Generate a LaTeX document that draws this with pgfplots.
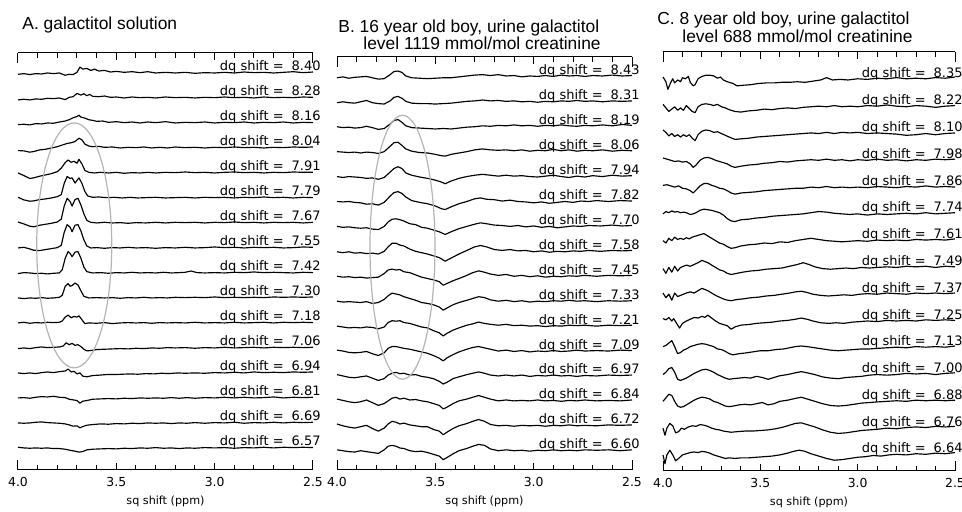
\documentclass[border=0pt]{standalone}
\usepackage{fontspec}
\setmainfont{Liberation Sans}
\newfontfamily\lab{DejaVu Sans}
\usepackage{pgfplots}
\pgfplotsset{compat=1.18}

\definecolor{ellgray}{HTML}{B4B4B4}
\newcommand\ttl{\fontsize{8.7}{10}\selectfont}
% one trace: #1 = row (stacked downwards by \spc), #2 = coordinates
\newcommand\tr[2]{\addplot[trace, y filter/.expression={y-#1*\spc}] coordinates {#2};}
\newcommand\dq[2]{\node[anchor=base east, inner sep=0pt, xshift=4pt, yshift=1pt,
  font=\lab\fontsize{6.5}{7.5}\selectfont] at (axis cs:2.5,{-#1*\spc}) {dq shift =\hspace{4pt}#2};}
% ruler ticks on the top and bottom lines
\newcommand\rtick[2]{%
  \draw[black, line width=0.5pt] ({axis cs:#1,0}|-{rel axis cs:0,0}) -- ++(0pt,#2);
  \draw[black, line width=0.5pt] ({axis cs:#1,0}|-{rel axis cs:0,1}) -- ++(0pt,-#2);}
\newcommand\ruler{%
  \pgfplotsinvokeforeach{2.6,2.7,2.8,2.9,3.1,3.2,3.3,3.4,3.6,3.7,3.8,3.9}{\rtick{##1}{2.3pt}}
  \rtick{3.0}{3.6pt}\rtick{3.5}{3.6pt}\rtick{2.5}{5pt}\rtick{4.0}{5pt}}

\pgfplotsset{
  panel/.style={
    scale only axis, width=147.5pt,
    xmin=2.5, xmax=4.0, x dir=reverse,
    axis x line=box, axis y line=none,
    ytick=\empty,
    xtick={2.5,3,3.5,4}, xticklabels={2.5,3.0,3.5,4.0},
    tick align=inside, xtick pos=both, xticklabel pos=lower,
    major tick length=3.6pt,
    every tick/.style={black, line width=0.5pt},
    axis line style={black, line width=0.5pt},
    xticklabel style={font=\lab\fontsize{6.2}{7}\selectfont},
    xlabel={sq shift (ppm)},
    xlabel style={font=\lab\fontsize{5.6}{6.5}\selectfont, yshift=2pt},
    clip=false,
  },
  trace/.style={black, line width=0.58pt, mark=none, line join=round},
}

\begin{document}
\begin{tikzpicture}
\path[use as bounding box] (0,0) rectangle (481pt,256pt);

% ---------------- A ----------------
\def\spc{0.77}
\begin{axis}[panel, at={(9pt,21pt)}, anchor=south west, height=208.5pt, ymin=-12.23, ymax=0.616]
\tr{0}{(4.00,-0.04)(3.97,-0.02)(3.94,-0.05)(3.91,-0.02)(3.88,-0.03)(3.85,0.00)(3.82,-0.02)(3.79,0.00)(3.76,-0.07)(3.74,-0.04)(3.72,-0.05)(3.70,0.02)(3.685,0.18)(3.67,0.12)(3.65,0.14)(3.63,0.08)(3.61,0.12)(3.59,0.06)(3.56,0.08)(3.53,0.03)(3.50,0.05)(3.46,0.02)(3.42,0.04)(3.38,0.01)(3.34,0.04)(3.30,0.00)(3.25,0.02)(3.20,0.00)(3.15,0.02)(3.10,-0.01)(3.05,0.01)(3.00,0.00)(2.95,0.02)(2.90,0.00)(2.85,0.03)(2.80,0.01)(2.75,0.02)(2.70,0.00)(2.65,0.02)(2.60,0.04)(2.55,0.01)(2.50,0.03)}
\tr{1}{(4.00,-0.06)(3.97,-0.04)(3.94,-0.06)(3.91,-0.03)(3.88,-0.04)(3.85,-0.01)(3.82,-0.02)(3.79,0.00)(3.76,-0.05)(3.74,0.02)(3.72,0.04)(3.70,0.14)(3.68,0.09)(3.665,0.13)(3.65,0.07)(3.635,0.11)(3.62,0.05)(3.59,0.04)(3.56,0.06)(3.53,0.02)(3.50,0.03)(3.46,0.00)(3.42,0.03)(3.38,0.01)(3.34,0.02)(3.30,0.00)(3.25,0.03)(3.20,0.01)(3.15,0.02)(3.10,0.00)(3.05,0.02)(3.00,0.01)(2.95,0.03)(2.90,0.01)(2.85,0.02)(2.80,0.00)(2.75,0.03)(2.70,0.01)(2.65,0.02)(2.60,0.01)(2.55,0.03)(2.50,0.02)}
\tr{2}{(4.00,-0.05)(3.97,-0.04)(3.94,-0.06)(3.91,-0.02)(3.88,-0.03)(3.85,0.00)(3.82,-0.01)(3.79,0.03)(3.76,0.06)(3.74,0.10)(3.72,0.16)(3.70,0.20)(3.69,0.24)(3.68,0.18)(3.66,0.15)(3.64,0.10)(3.62,0.08)(3.60,0.05)(3.57,0.06)(3.54,0.02)(3.50,0.04)(3.46,0.01)(3.42,0.03)(3.38,0.00)(3.34,0.03)(3.30,0.01)(3.25,0.04)(3.20,0.00)(3.15,0.02)(3.10,0.01)(3.05,0.03)(3.00,0.00)(2.95,0.02)(2.90,0.01)(2.85,0.03)(2.80,0.00)(2.75,0.02)(2.70,0.01)(2.65,0.03)(2.60,0.00)(2.55,0.02)(2.50,0.01)}
\tr{3}{(4.00,-0.08)(3.97,-0.09)(3.94,-0.13)(3.92,-0.11)(3.89,-0.06)(3.86,-0.04)(3.83,0.00)(3.80,0.04)(3.77,0.10)(3.75,0.14)(3.73,0.16)(3.71,0.20)(3.69,0.30)(3.675,0.25)(3.66,0.12)(3.64,0.06)(3.62,0.04)(3.59,0.05)(3.56,0.02)(3.52,0.03)(3.48,0.00)(3.44,0.02)(3.40,0.01)(3.36,0.03)(3.32,0.00)(3.28,0.02)(3.24,0.00)(3.20,0.03)(3.15,0.01)(3.10,0.02)(3.05,0.00)(3.00,0.02)(2.95,0.01)(2.90,0.03)(2.85,0.01)(2.80,0.02)(2.75,0.00)(2.70,0.02)(2.65,0.01)(2.60,0.03)(2.55,0.02)(2.50,0.03)}
\tr{4}{(4.00,0.00)(3.97,-0.08)(3.94,-0.17)(3.92,-0.15)(3.89,-0.10)(3.86,-0.06)(3.83,-0.02)(3.80,0.04)(3.78,0.15)(3.76,0.32)(3.745,0.40)(3.73,0.33)(3.715,0.36)(3.70,0.30)(3.69,0.42)(3.675,0.28)(3.66,0.08)(3.64,0.02)(3.61,0.00)(3.58,0.02)(3.54,0.00)(3.50,0.02)(3.46,-0.01)(3.42,0.01)(3.38,0.00)(3.34,0.02)(3.30,0.00)(3.25,0.02)(3.20,0.01)(3.15,0.03)(3.10,0.01)(3.05,0.02)(3.00,0.00)(2.95,0.02)(2.90,0.03)(2.85,0.01)(2.80,0.02)(2.75,0.00)(2.70,0.02)(2.65,0.01)(2.60,0.03)(2.55,0.02)(2.50,0.02)}
\tr{5}{(4.00,0.02)(3.97,-0.06)(3.94,-0.10)(3.92,-0.09)(3.89,-0.05)(3.86,-0.03)(3.83,0.00)(3.80,0.04)(3.78,0.10)(3.765,0.45)(3.75,0.66)(3.735,0.60)(3.725,0.62)(3.71,0.46)(3.69,0.62)(3.675,0.45)(3.66,0.20)(3.645,0.06)(3.62,0.02)(3.59,0.03)(3.55,0.01)(3.51,0.02)(3.47,0.00)(3.43,0.02)(3.39,0.00)(3.35,0.01)(3.30,0.02)(3.25,0.00)(3.20,0.01)(3.15,0.02)(3.10,0.00)(3.05,0.02)(3.00,0.01)(2.95,0.02)(2.90,0.00)(2.85,0.02)(2.80,0.01)(2.75,0.03)(2.70,0.01)(2.65,0.02)(2.60,0.00)(2.55,0.02)(2.50,0.01)}
\tr{6}{(4.00,0.03)(3.97,-0.03)(3.94,-0.10)(3.92,-0.12)(3.89,-0.07)(3.86,-0.04)(3.83,-0.01)(3.80,0.03)(3.78,0.12)(3.765,0.52)(3.75,0.76)(3.735,0.66)(3.725,0.52)(3.71,0.72)(3.695,0.76)(3.68,0.55)(3.665,0.28)(3.65,0.08)(3.63,0.02)(3.60,0.00)(3.56,0.02)(3.52,0.00)(3.48,0.01)(3.44,-0.01)(3.40,0.01)(3.35,0.00)(3.30,0.02)(3.25,0.00)(3.20,0.02)(3.15,0.01)(3.10,0.02)(3.05,0.00)(3.00,0.02)(2.95,0.01)(2.90,0.03)(2.85,0.01)(2.80,0.02)(2.75,0.00)(2.70,0.02)(2.65,0.01)(2.60,0.02)(2.55,0.00)(2.50,0.02)}
\tr{7}{(4.00,0.00)(3.97,0.02)(3.94,-0.03)(3.92,-0.07)(3.89,-0.08)(3.86,-0.05)(3.83,-0.02)(3.80,0.01)(3.78,0.08)(3.765,0.48)(3.75,0.72)(3.735,0.64)(3.725,0.50)(3.71,0.70)(3.695,0.72)(3.68,0.52)(3.665,0.25)(3.65,0.06)(3.63,0.00)(3.60,0.01)(3.56,-0.01)(3.52,0.01)(3.48,0.00)(3.44,0.02)(3.40,0.00)(3.35,0.01)(3.30,-0.01)(3.25,0.01)(3.20,0.00)(3.15,0.02)(3.10,0.00)(3.05,0.01)(3.00,0.03)(2.95,0.01)(2.90,0.02)(2.85,0.00)(2.80,0.02)(2.75,0.01)(2.70,0.02)(2.65,0.00)(2.60,0.01)(2.55,0.03)(2.50,0.02)}
\tr{8}{(4.00,-0.02)(3.97,0.01)(3.94,0.00)(3.91,-0.02)(3.88,-0.01)(3.85,-0.03)(3.82,-0.01)(3.79,0.00)(3.775,0.10)(3.76,0.45)(3.745,0.66)(3.735,0.60)(3.725,0.50)(3.71,0.64)(3.695,0.66)(3.68,0.45)(3.665,0.18)(3.65,0.04)(3.62,0.00)(3.58,0.01)(3.54,-0.01)(3.50,0.01)(3.46,0.00)(3.42,0.02)(3.38,0.00)(3.34,0.01)(3.30,0.00)(3.26,0.02)(3.22,0.00)(3.18,0.01)(3.15,0.02)(3.12,0.06)(3.09,0.01)(3.05,0.00)(3.00,0.01)(2.95,0.00)(2.90,0.02)(2.85,0.01)(2.80,0.03)(2.75,0.01)(2.70,0.02)(2.65,0.01)(2.60,0.00)(2.55,0.02)(2.50,0.01)}
\tr{9}{(4.00,0.00)(3.97,-0.02)(3.94,0.00)(3.91,-0.01)(3.88,0.01)(3.85,-0.01)(3.82,0.00)(3.79,0.02)(3.775,0.08)(3.76,0.36)(3.745,0.44)(3.735,0.36)(3.725,0.38)(3.71,0.46)(3.695,0.40)(3.68,0.22)(3.665,0.05)(3.64,0.00)(3.60,0.01)(3.56,0.00)(3.52,0.01)(3.48,-0.01)(3.44,0.01)(3.40,0.00)(3.36,0.02)(3.32,0.00)(3.28,0.01)(3.24,0.00)(3.20,0.02)(3.15,0.01)(3.10,0.02)(3.05,0.01)(3.00,0.03)(2.95,0.01)(2.90,0.02)(2.85,0.01)(2.80,0.02)(2.75,0.01)(2.70,0.03)(2.65,0.02)(2.60,0.03)(2.55,0.02)(2.50,0.03)}
\tr{10}{(4.00,0.00)(3.97,0.02)(3.94,-0.01)(3.91,0.01)(3.88,0.00)(3.85,0.02)(3.82,0.01)(3.79,0.02)(3.775,0.06)(3.76,0.18)(3.745,0.24)(3.73,0.16)(3.715,0.20)(3.70,0.18)(3.69,0.22)(3.675,0.10)(3.66,-0.02)(3.64,0.00)(3.60,-0.01)(3.56,0.01)(3.52,-0.02)(3.48,0.00)(3.44,0.01)(3.40,0.00)(3.36,0.01)(3.32,-0.01)(3.28,0.01)(3.24,0.00)(3.20,0.01)(3.15,0.00)(3.10,0.02)(3.05,0.00)(3.00,0.01)(2.95,0.00)(2.90,0.02)(2.85,0.00)(2.80,0.01)(2.75,0.02)(2.70,0.00)(2.65,0.02)(2.60,0.01)(2.55,0.02)(2.50,0.01)}
\tr{11}{(4.00,-0.02)(3.97,0.00)(3.94,-0.02)(3.91,0.01)(3.88,0.03)(3.85,0.01)(3.82,0.02)(3.79,0.03)(3.77,0.06)(3.755,0.16)(3.74,0.10)(3.725,0.14)(3.71,0.08)(3.695,0.10)(3.68,0.04)(3.665,-0.04)(3.65,-0.09)(3.63,-0.08)(3.60,-0.05)(3.56,-0.04)(3.52,-0.03)(3.48,-0.02)(3.44,-0.03)(3.40,-0.01)(3.36,-0.02)(3.32,0.00)(3.28,-0.01)(3.24,0.01)(3.20,0.00)(3.15,0.01)(3.10,-0.01)(3.05,0.01)(3.00,0.00)(2.95,0.02)(2.90,0.00)(2.85,0.01)(2.80,0.02)(2.75,0.00)(2.70,0.02)(2.65,0.01)(2.60,0.02)(2.55,0.01)(2.50,0.02)}
\tr{12}{(4.00,0.00)(3.97,-0.02)(3.94,0.00)(3.91,-0.02)(3.88,0.01)(3.85,0.03)(3.82,0.01)(3.79,0.04)(3.76,0.06)(3.745,0.12)(3.73,0.03)(3.715,0.05)(3.70,-0.03)(3.685,0.00)(3.67,-0.10)(3.65,-0.12)(3.62,-0.08)(3.59,-0.07)(3.55,-0.05)(3.51,-0.05)(3.47,-0.04)(3.43,-0.03)(3.39,-0.04)(3.35,-0.02)(3.31,-0.03)(3.27,-0.01)(3.23,-0.02)(3.19,0.00)(3.15,-0.01)(3.10,0.00)(3.05,-0.01)(3.00,0.01)(2.95,0.00)(2.90,0.02)(2.85,0.00)(2.80,0.03)(2.75,0.01)(2.70,0.02)(2.65,0.01)(2.60,0.03)(2.55,0.02)(2.50,0.03)}
\tr{13}{(4.00,0.00)(3.97,0.01)(3.94,-0.01)(3.91,0.02)(3.88,0.04)(3.85,0.03)(3.82,0.05)(3.79,0.02)(3.76,0.01)(3.74,-0.04)(3.72,-0.06)(3.70,-0.08)(3.685,-0.16)(3.67,-0.10)(3.65,-0.08)(3.62,-0.04)(3.58,-0.03)(3.54,-0.02)(3.50,-0.03)(3.46,-0.01)(3.42,-0.02)(3.38,0.00)(3.34,-0.01)(3.30,0.00)(3.26,-0.01)(3.22,0.01)(3.18,-0.01)(3.14,0.01)(3.10,-0.01)(3.05,0.01)(3.00,0.00)(2.95,0.02)(2.90,0.00)(2.85,0.02)(2.80,0.00)(2.75,0.01)(2.70,0.03)(2.65,0.00)(2.60,0.02)(2.55,0.01)(2.50,0.02)}
\tr{14}{(4.00,0.00)(3.97,-0.01)(3.94,0.00)(3.91,0.02)(3.88,0.03)(3.85,0.01)(3.82,0.00)(3.79,-0.01)(3.76,-0.03)(3.74,-0.06)(3.72,-0.10)(3.70,-0.09)(3.685,-0.15)(3.67,-0.11)(3.65,-0.07)(3.62,-0.05)(3.58,-0.03)(3.54,-0.04)(3.50,-0.02)(3.46,-0.03)(3.42,-0.01)(3.38,-0.02)(3.34,0.00)(3.30,-0.01)(3.26,0.00)(3.22,-0.02)(3.18,0.00)(3.14,-0.01)(3.10,0.01)(3.05,-0.01)(3.00,0.01)(2.95,0.00)(2.90,0.02)(2.85,-0.01)(2.80,0.01)(2.75,0.00)(2.70,0.02)(2.65,0.00)(2.60,0.02)(2.55,0.01)(2.50,0.02)}
\tr{15}{(4.00,0.02)(3.97,0.00)(3.94,-0.01)(3.91,0.00)(3.88,-0.01)(3.85,0.00)(3.82,-0.02)(3.79,-0.02)(3.76,-0.04)(3.73,-0.08)(3.71,-0.10)(3.69,-0.13)(3.67,-0.11)(3.65,-0.06)(3.62,-0.04)(3.58,-0.03)(3.54,-0.02)(3.50,-0.03)(3.46,-0.01)(3.42,-0.02)(3.38,0.00)(3.34,-0.01)(3.30,0.01)(3.26,-0.01)(3.22,0.00)(3.18,-0.02)(3.14,0.00)(3.10,-0.01)(3.05,0.01)(3.00,0.00)(2.95,0.01)(2.90,-0.01)(2.85,0.01)(2.80,0.00)(2.75,0.02)(2.70,0.00)(2.65,0.02)(2.60,0.01)(2.55,0.02)(2.50,0.01)}
\dq{0}{8.40}\dq{1}{8.28}\dq{2}{8.16}\dq{3}{8.04}\dq{4}{7.91}\dq{5}{7.79}\dq{6}{7.67}\dq{7}{7.55}
\dq{8}{7.42}\dq{9}{7.30}\dq{10}{7.18}\dq{11}{7.06}\dq{12}{6.94}\dq{13}{6.81}\dq{14}{6.69}\dq{15}{6.57}
\draw[ellgray, line width=0.6pt] (axis cs:3.714,-5.31) ellipse [x radius=18.75pt, y radius=61.25pt];
\ruler
\end{axis}

% ---------------- B ----------------
\def\spc{0.556}
\begin{axis}[panel, at={(168.5pt,21pt)}, anchor=south west, height=206.5pt, ymin=-8.77, ymax=0.444]
\tr{0}{(4.00,-0.02)(3.97,0.00)(3.94,-0.03)(3.91,-0.01)(3.88,0.00)(3.85,0.01)(3.82,-0.02)(3.79,-0.05)(3.76,-0.04)(3.73,0.05)(3.71,0.12)(3.69,0.13)(3.67,0.10)(3.65,0.02)(3.62,-0.02)(3.58,-0.03)(3.54,-0.04)(3.50,-0.03)(3.46,-0.02)(3.42,-0.02)(3.38,0.00)(3.34,0.02)(3.30,0.04)(3.26,0.05)(3.22,0.03)(3.18,0.05)(3.14,0.02)(3.10,0.03)(3.06,0.00)(3.02,0.02)(2.98,0.01)(2.94,0.03)(2.90,0.01)(2.86,0.04)(2.82,0.02)(2.78,0.03)(2.74,0.01)(2.70,0.03)(2.65,0.02)(2.60,0.04)(2.55,0.02)(2.50,0.03)}
\tr{1}{(4.00,-0.02)(3.97,0.00)(3.94,-0.02)(3.91,-0.03)(3.88,0.00)(3.85,0.03)(3.82,-0.02)(3.79,-0.04)(3.76,-0.05)(3.73,0.02)(3.71,0.10)(3.69,0.12)(3.67,0.08)(3.65,0.01)(3.62,-0.03)(3.58,-0.04)(3.54,-0.04)(3.50,-0.05)(3.46,-0.04)(3.42,-0.03)(3.38,-0.01)(3.34,0.01)(3.30,0.02)(3.26,0.04)(3.22,0.02)(3.18,0.03)(3.14,0.01)(3.10,0.02)(3.06,0.00)(3.02,0.01)(2.98,-0.01)(2.94,0.01)(2.90,0.00)(2.86,0.02)(2.82,0.01)(2.78,0.03)(2.74,0.01)(2.70,0.02)(2.65,0.00)(2.60,0.02)(2.55,0.01)(2.50,0.02)}
\tr{2}{(4.00,0.00)(3.97,-0.02)(3.94,-0.01)(3.91,-0.03)(3.88,-0.02)(3.85,0.01)(3.82,-0.02)(3.79,-0.06)(3.76,-0.04)(3.73,0.06)(3.71,0.14)(3.69,0.16)(3.67,0.10)(3.65,0.02)(3.62,-0.02)(3.58,-0.03)(3.54,-0.04)(3.50,-0.05)(3.46,-0.04)(3.42,-0.05)(3.38,-0.03)(3.34,-0.01)(3.30,0.00)(3.26,0.02)(3.22,0.01)(3.18,0.03)(3.14,0.02)(3.10,0.04)(3.06,0.02)(3.02,0.03)(2.98,0.01)(2.94,0.03)(2.90,0.02)(2.86,0.04)(2.82,0.02)(2.78,0.01)(2.74,0.03)(2.70,0.02)(2.65,0.04)(2.60,0.02)(2.55,0.05)(2.50,0.03)}
\tr{3}{(4.00,0.00)(3.97,-0.01)(3.94,-0.02)(3.91,-0.01)(3.88,-0.03)(3.85,-0.01)(3.82,-0.02)(3.79,-0.04)(3.76,0.00)(3.73,0.12)(3.71,0.20)(3.69,0.21)(3.67,0.14)(3.65,0.06)(3.62,0.01)(3.58,-0.02)(3.54,-0.03)(3.50,-0.06)(3.47,-0.09)(3.45,-0.10)(3.42,-0.06)(3.38,-0.03)(3.34,0.00)(3.30,0.04)(3.26,0.06)(3.22,0.04)(3.18,0.03)(3.14,0.04)(3.10,0.02)(3.06,0.04)(3.02,0.01)(2.98,0.03)(2.94,0.02)(2.90,0.05)(2.86,0.02)(2.82,0.04)(2.78,0.01)(2.74,0.03)(2.70,0.02)(2.65,0.04)(2.60,0.01)(2.55,0.03)(2.50,0.02)}
\tr{4}{(4.00,0.00)(3.97,-0.02)(3.94,0.00)(3.91,-0.01)(3.88,-0.02)(3.85,-0.04)(3.82,-0.03)(3.79,-0.06)(3.76,-0.02)(3.73,0.10)(3.71,0.18)(3.69,0.22)(3.67,0.18)(3.65,0.08)(3.62,0.03)(3.58,-0.01)(3.54,-0.04)(3.50,-0.08)(3.47,-0.12)(3.45,-0.16)(3.42,-0.10)(3.38,-0.04)(3.34,0.00)(3.30,0.03)(3.26,0.05)(3.22,0.03)(3.18,0.01)(3.14,0.03)(3.10,0.01)(3.06,0.02)(3.02,0.00)(2.98,-0.01)(2.94,0.01)(2.90,0.03)(2.86,0.00)(2.82,-0.02)(2.78,0.01)(2.74,-0.01)(2.70,0.02)(2.65,0.00)(2.60,0.03)(2.55,0.01)(2.50,0.02)}
\tr{5}{(4.00,0.00)(3.97,-0.01)(3.94,0.00)(3.91,-0.02)(3.88,-0.03)(3.85,-0.06)(3.82,-0.05)(3.79,-0.08)(3.76,-0.02)(3.73,0.12)(3.71,0.20)(3.69,0.22)(3.67,0.18)(3.65,0.10)(3.62,0.02)(3.58,-0.02)(3.54,-0.05)(3.50,-0.10)(3.47,-0.16)(3.45,-0.18)(3.42,-0.12)(3.38,-0.05)(3.34,0.00)(3.30,0.06)(3.27,0.08)(3.24,0.05)(3.20,0.04)(3.16,0.01)(3.12,0.03)(3.08,0.00)(3.04,-0.01)(3.00,-0.03)(2.96,-0.01)(2.92,-0.04)(2.88,-0.02)(2.84,0.00)(2.80,-0.02)(2.76,0.01)(2.72,0.00)(2.68,0.02)(2.62,0.00)(2.56,0.02)(2.50,0.01)}
\tr{6}{(4.00,0.00)(3.97,-0.02)(3.94,-0.01)(3.91,-0.03)(3.88,-0.04)(3.85,-0.03)(3.82,-0.06)(3.79,-0.07)(3.76,0.00)(3.74,0.10)(3.72,0.16)(3.70,0.17)(3.68,0.15)(3.66,0.12)(3.63,0.06)(3.60,0.04)(3.57,-0.02)(3.54,-0.04)(3.51,-0.08)(3.48,-0.12)(3.45,-0.18)(3.42,-0.12)(3.38,-0.05)(3.34,0.00)(3.30,0.05)(3.27,0.08)(3.24,0.06)(3.20,0.03)(3.16,0.02)(3.12,0.00)(3.08,0.02)(3.04,-0.01)(3.00,0.01)(2.96,-0.02)(2.92,0.00)(2.88,-0.03)(2.84,-0.01)(2.80,0.01)(2.76,0.00)(2.72,0.02)(2.66,0.01)(2.60,0.03)(2.55,0.01)(2.50,0.02)}
\tr{7}{(4.00,-0.01)(3.97,-0.03)(3.94,-0.01)(3.91,-0.04)(3.88,-0.03)(3.85,-0.05)(3.82,-0.04)(3.79,-0.06)(3.76,0.00)(3.74,0.10)(3.72,0.18)(3.70,0.18)(3.68,0.14)(3.66,0.12)(3.63,0.05)(3.60,0.00)(3.57,-0.03)(3.54,-0.06)(3.51,-0.10)(3.48,-0.14)(3.45,-0.22)(3.42,-0.15)(3.38,-0.06)(3.34,0.02)(3.30,0.10)(3.27,0.13)(3.24,0.10)(3.20,0.04)(3.16,0.02)(3.12,0.04)(3.08,0.01)(3.04,0.02)(3.00,-0.01)(2.96,0.01)(2.92,-0.02)(2.88,0.00)(2.84,-0.01)(2.80,0.01)(2.76,0.00)(2.72,0.02)(2.66,0.00)(2.60,0.02)(2.55,0.01)(2.50,0.02)}
\tr{8}{(4.00,0.00)(3.97,-0.02)(3.94,-0.01)(3.91,-0.03)(3.88,-0.02)(3.85,-0.04)(3.82,-0.03)(3.79,-0.02)(3.76,0.06)(3.74,0.14)(3.72,0.16)(3.70,0.14)(3.68,0.15)(3.66,0.10)(3.63,0.08)(3.60,0.03)(3.57,-0.02)(3.54,-0.05)(3.51,-0.08)(3.48,-0.12)(3.46,-0.20)(3.44,-0.16)(3.41,-0.10)(3.38,-0.05)(3.34,0.02)(3.31,0.08)(3.28,0.12)(3.25,0.09)(3.22,0.05)(3.18,0.02)(3.14,0.04)(3.10,0.00)(3.06,0.02)(3.02,-0.01)(2.98,0.01)(2.94,-0.02)(2.90,0.00)(2.86,-0.01)(2.82,0.01)(2.78,0.00)(2.74,0.02)(2.68,0.00)(2.62,0.02)(2.56,0.01)(2.50,0.02)}
\tr{9}{(4.00,0.00)(3.97,-0.02)(3.94,-0.01)(3.91,-0.02)(3.88,-0.03)(3.85,-0.01)(3.82,-0.05)(3.79,-0.03)(3.76,0.04)(3.74,0.12)(3.72,0.18)(3.70,0.16)(3.68,0.14)(3.66,0.10)(3.63,0.06)(3.60,0.02)(3.57,-0.03)(3.54,-0.05)(3.51,-0.08)(3.48,-0.13)(3.46,-0.20)(3.44,-0.15)(3.41,-0.08)(3.38,-0.03)(3.34,0.02)(3.31,0.06)(3.28,0.10)(3.25,0.08)(3.22,0.03)(3.18,0.00)(3.14,0.02)(3.10,-0.01)(3.06,0.01)(3.02,-0.02)(2.98,0.00)(2.94,-0.01)(2.90,0.01)(2.86,0.00)(2.82,0.02)(2.78,0.00)(2.74,0.01)(2.68,-0.01)(2.62,0.01)(2.56,0.00)(2.50,0.01)}
\tr{10}{(4.00,0.00)(3.97,-0.02)(3.94,-0.04)(3.91,-0.03)(3.88,-0.04)(3.85,-0.02)(3.82,-0.03)(3.79,-0.06)(3.76,-0.02)(3.74,0.08)(3.72,0.12)(3.70,0.11)(3.68,0.12)(3.66,0.08)(3.63,0.06)(3.60,0.02)(3.57,-0.02)(3.54,-0.04)(3.51,-0.10)(3.48,-0.15)(3.46,-0.22)(3.44,-0.16)(3.41,-0.09)(3.38,-0.04)(3.34,0.02)(3.31,0.05)(3.28,0.09)(3.25,0.06)(3.22,0.04)(3.18,0.02)(3.14,0.04)(3.10,0.01)(3.06,0.02)(3.02,0.00)(2.98,0.01)(2.94,-0.01)(2.90,0.01)(2.86,0.00)(2.82,0.02)(2.78,0.01)(2.74,0.02)(2.68,0.00)(2.62,0.02)(2.56,0.01)(2.50,0.02)}
\tr{11}{(4.00,0.02)(3.97,0.00)(3.94,-0.03)(3.91,-0.04)(3.88,-0.03)(3.85,-0.01)(3.82,-0.06)(3.79,-0.10)(3.76,-0.04)(3.74,0.06)(3.72,0.10)(3.70,0.10)(3.68,0.08)(3.66,0.06)(3.63,0.04)(3.60,0.01)(3.57,-0.02)(3.54,-0.05)(3.51,-0.10)(3.48,-0.16)(3.46,-0.22)(3.44,-0.15)(3.41,-0.08)(3.38,-0.02)(3.34,0.04)(3.31,0.08)(3.28,0.10)(3.25,0.07)(3.22,0.04)(3.18,0.00)(3.14,0.02)(3.10,-0.01)(3.06,0.01)(3.02,-0.02)(2.98,0.00)(2.94,-0.01)(2.90,0.01)(2.86,-0.01)(2.82,0.00)(2.78,0.02)(2.74,0.00)(2.68,0.01)(2.62,0.00)(2.56,0.02)(2.50,0.01)}
\tr{12}{(4.00,0.03)(3.97,0.00)(3.94,-0.03)(3.91,-0.04)(3.88,-0.02)(3.85,0.00)(3.82,-0.05)(3.79,-0.10)(3.76,-0.06)(3.74,0.02)(3.72,0.06)(3.70,0.08)(3.68,0.05)(3.66,0.06)(3.63,0.02)(3.60,0.03)(3.57,-0.01)(3.54,-0.03)(3.51,-0.06)(3.48,-0.12)(3.46,-0.18)(3.44,-0.14)(3.41,-0.06)(3.38,-0.02)(3.34,0.03)(3.31,0.06)(3.28,0.09)(3.25,0.06)(3.22,0.02)(3.18,0.00)(3.14,0.02)(3.10,0.00)(3.06,0.02)(3.02,-0.01)(2.98,0.01)(2.94,0.00)(2.90,0.02)(2.86,0.00)(2.82,0.01)(2.78,-0.01)(2.74,0.01)(2.68,0.00)(2.62,0.02)(2.56,0.01)(2.50,0.02)}
\tr{13}{(4.00,0.04)(3.97,0.01)(3.94,-0.02)(3.91,-0.04)(3.88,-0.02)(3.85,0.02)(3.82,-0.04)(3.79,-0.10)(3.76,-0.06)(3.74,0.00)(3.72,0.06)(3.70,0.08)(3.68,0.04)(3.66,0.06)(3.63,0.02)(3.60,0.03)(3.57,0.00)(3.54,-0.02)(3.51,-0.06)(3.48,-0.10)(3.46,-0.18)(3.44,-0.14)(3.41,-0.06)(3.38,0.00)(3.34,0.04)(3.31,0.08)(3.28,0.12)(3.25,0.08)(3.22,0.04)(3.18,0.00)(3.14,0.02)(3.10,0.00)(3.06,0.01)(3.02,0.00)(2.98,0.02)(2.94,0.00)(2.90,0.01)(2.86,-0.01)(2.82,0.01)(2.78,0.00)(2.74,0.02)(2.68,0.00)(2.62,0.01)(2.56,0.00)(2.50,0.02)}
\tr{14}{(4.00,0.04)(3.97,0.00)(3.94,-0.03)(3.91,-0.05)(3.88,-0.02)(3.85,0.01)(3.82,-0.06)(3.79,-0.12)(3.76,-0.05)(3.74,0.04)(3.72,0.10)(3.70,0.08)(3.68,0.04)(3.66,0.06)(3.63,0.02)(3.60,0.00)(3.57,-0.02)(3.54,-0.02)(3.51,-0.08)(3.48,-0.12)(3.46,-0.20)(3.44,-0.14)(3.41,-0.06)(3.38,0.00)(3.34,0.05)(3.31,0.10)(3.28,0.14)(3.25,0.10)(3.22,0.03)(3.18,0.00)(3.14,0.01)(3.10,-0.01)(3.06,0.01)(3.02,0.00)(2.98,0.01)(2.94,-0.01)(2.90,0.01)(2.86,0.00)(2.82,0.02)(2.78,0.00)(2.74,0.01)(2.68,0.00)(2.62,0.02)(2.56,0.01)(2.50,0.02)}
\tr{15}{(4.00,0.02)(3.97,0.00)(3.94,-0.02)(3.91,-0.03)(3.88,0.00)(3.85,-0.02)(3.82,-0.04)(3.79,-0.06)(3.76,0.02)(3.74,0.10)(3.72,0.12)(3.70,0.10)(3.68,0.06)(3.66,0.05)(3.63,0.00)(3.60,-0.02)(3.57,-0.01)(3.54,-0.04)(3.51,-0.08)(3.48,-0.12)(3.46,-0.20)(3.44,-0.15)(3.41,-0.07)(3.38,0.00)(3.34,0.05)(3.31,0.10)(3.28,0.14)(3.25,0.12)(3.22,0.04)(3.18,0.00)(3.14,0.02)(3.10,0.00)(3.06,0.01)(3.02,-0.01)(2.98,0.01)(2.94,0.00)(2.90,0.02)(2.86,0.00)(2.82,0.01)(2.78,0.00)(2.74,0.02)(2.68,0.01)(2.62,0.02)(2.56,0.00)(2.50,0.02)}
\dq{0}{8.43}\dq{1}{8.31}\dq{2}{8.19}\dq{3}{8.06}\dq{4}{7.94}\dq{5}{7.82}\dq{6}{7.70}\dq{7}{7.58}
\dq{8}{7.45}\dq{9}{7.33}\dq{10}{7.21}\dq{11}{7.09}\dq{12}{6.97}\dq{13}{6.84}\dq{14}{6.72}\dq{15}{6.60}
\draw[ellgray, line width=0.6pt] (axis cs:3.667,-3.80) ellipse [x radius=16.25pt, y radius=66pt];
\ruler
\end{axis}

% ---------------- C ----------------
\def\spc{0.4545}
\begin{axis}[panel, at={(331.5pt,20.5pt)}, anchor=south west, width=146pt, height=209.5pt, ymin=-6.636, ymax=0.475]
\tr{0}{(4.00,0.05)(3.985,-0.03)(3.975,-0.16)(3.96,-0.04)(3.95,0.02)(3.94,-0.05)(3.925,0.00)(3.91,-0.03)(3.90,0.04)(3.885,0.02)(3.87,0.06)(3.86,-0.04)(3.845,-0.10)(3.835,-0.08)(3.82,0.02)(3.80,0.06)(3.78,0.08)(3.76,0.08)(3.74,0.07)(3.72,0.03)(3.705,0.05)(3.69,0.00)(3.67,-0.03)(3.64,-0.06)(3.62,-0.10)(3.59,-0.09)(3.55,-0.08)(3.51,-0.06)(3.47,-0.05)(3.43,-0.05)(3.39,-0.04)(3.35,-0.04)(3.31,-0.03)(3.27,-0.04)(3.23,-0.02)(3.19,0.00)(3.16,0.04)(3.13,0.00)(3.09,0.01)(3.05,0.00)(3.00,0.02)(2.95,0.01)(2.90,0.03)(2.85,0.02)(2.80,0.04)(2.75,0.02)(2.70,0.03)(2.65,0.02)(2.60,0.04)(2.55,0.03)(2.50,0.05)}
\tr{1}{(4.00,0.04)(3.985,-0.02)(3.97,-0.08)(3.955,-0.04)(3.94,0.00)(3.925,-0.06)(3.91,-0.02)(3.895,-0.06)(3.88,0.02)(3.865,-0.03)(3.85,-0.08)(3.835,-0.10)(3.82,0.00)(3.80,0.04)(3.78,0.05)(3.76,0.04)(3.74,0.02)(3.72,0.04)(3.70,0.00)(3.68,-0.02)(3.66,-0.05)(3.63,-0.08)(3.60,-0.09)(3.56,-0.07)(3.52,-0.06)(3.48,-0.04)(3.44,-0.05)(3.40,-0.03)(3.36,-0.02)(3.32,-0.03)(3.28,-0.01)(3.24,0.00)(3.20,0.01)(3.16,0.00)(3.12,0.02)(3.08,0.00)(3.04,0.01)(3.00,0.00)(2.95,0.02)(2.90,0.01)(2.85,0.03)(2.80,0.01)(2.75,0.00)(2.70,0.02)(2.65,0.01)(2.60,-0.01)(2.55,0.01)(2.50,0.02)}
\tr{2}{(4.00,0.06)(3.985,0.02)(3.97,-0.04)(3.955,0.00)(3.94,-0.05)(3.925,-0.02)(3.91,-0.06)(3.895,-0.02)(3.88,-0.05)(3.865,-0.02)(3.85,-0.08)(3.835,-0.12)(3.82,-0.02)(3.80,0.04)(3.78,0.06)(3.76,0.05)(3.74,0.02)(3.72,0.03)(3.70,0.00)(3.68,-0.03)(3.66,-0.06)(3.63,-0.10)(3.60,-0.09)(3.56,-0.08)(3.52,-0.06)(3.48,-0.05)(3.44,-0.04)(3.40,-0.03)(3.36,-0.02)(3.32,-0.01)(3.28,0.00)(3.24,0.01)(3.20,0.00)(3.16,0.02)(3.12,0.00)(3.08,0.02)(3.04,0.01)(3.00,0.02)(2.95,0.00)(2.90,0.01)(2.85,0.00)(2.80,-0.01)(2.75,-0.03)(2.70,-0.02)(2.65,0.00)(2.60,-0.02)(2.55,0.00)(2.50,0.01)}
\tr{3}{(4.00,0.04)(3.98,0.02)(3.96,0.00)(3.94,-0.02)(3.92,-0.01)(3.90,-0.03)(3.88,-0.02)(3.86,-0.06)(3.845,-0.12)(3.83,-0.08)(3.81,0.00)(3.79,0.04)(3.77,0.05)(3.75,0.03)(3.73,0.00)(3.71,-0.02)(3.69,-0.04)(3.67,-0.06)(3.65,-0.10)(3.63,-0.12)(3.60,-0.10)(3.56,-0.08)(3.52,-0.07)(3.48,-0.05)(3.44,-0.04)(3.40,-0.02)(3.36,-0.03)(3.32,-0.01)(3.28,0.00)(3.24,0.01)(3.20,0.00)(3.16,0.02)(3.12,0.00)(3.08,0.01)(3.04,-0.01)(3.00,0.01)(2.95,0.00)(2.90,0.02)(2.85,0.00)(2.80,0.01)(2.75,-0.01)(2.70,0.01)(2.65,0.00)(2.60,0.02)(2.55,0.01)(2.50,0.02)}
\tr{4}{(4.00,0.03)(3.98,0.04)(3.96,0.02)(3.94,0.00)(3.92,0.02)(3.90,-0.02)(3.88,-0.03)(3.86,-0.06)(3.845,-0.10)(3.83,-0.05)(3.81,0.02)(3.79,0.06)(3.77,0.06)(3.75,0.03)(3.73,0.01)(3.71,-0.02)(3.69,-0.03)(3.67,-0.06)(3.65,-0.10)(3.63,-0.12)(3.60,-0.10)(3.56,-0.09)(3.52,-0.08)(3.48,-0.06)(3.44,-0.05)(3.40,-0.04)(3.36,-0.03)(3.32,-0.02)(3.28,-0.02)(3.24,0.00)(3.20,-0.01)(3.16,0.01)(3.12,-0.01)(3.08,0.00)(3.04,-0.01)(3.00,0.00)(2.95,-0.01)(2.90,0.01)(2.85,0.00)(2.80,-0.01)(2.75,0.01)(2.70,0.00)(2.65,0.02)(2.60,0.00)(2.55,0.01)(2.50,0.00)}
\tr{5}{(4.00,0.00)(3.985,0.04)(3.97,0.02)(3.955,0.05)(3.94,0.03)(3.925,0.04)(3.91,0.02)(3.895,0.03)(3.88,0.02)(3.86,-0.01)(3.845,0.00)(3.83,0.02)(3.81,0.06)(3.79,0.08)(3.77,0.07)(3.75,0.06)(3.73,0.04)(3.71,0.02)(3.69,-0.02)(3.67,-0.08)(3.65,-0.12)(3.63,-0.13)(3.60,-0.10)(3.56,-0.09)(3.52,-0.07)(3.48,-0.06)(3.44,-0.04)(3.40,-0.03)(3.36,-0.02)(3.32,-0.01)(3.28,0.00)(3.24,0.02)(3.20,0.04)(3.16,0.03)(3.12,0.01)(3.08,0.00)(3.04,-0.01)(3.00,0.00)(2.95,-0.02)(2.90,0.00)(2.85,-0.01)(2.80,0.00)(2.75,0.01)(2.70,0.00)(2.65,0.02)(2.60,0.00)(2.55,0.01)(2.50,0.02)}
\tr{6}{(4.00,0.00)(3.985,-0.04)(3.97,0.04)(3.955,0.00)(3.94,0.06)(3.925,0.02)(3.91,0.04)(3.895,0.02)(3.88,0.05)(3.865,0.03)(3.85,0.06)(3.83,0.08)(3.81,0.10)(3.79,0.12)(3.77,0.08)(3.75,0.04)(3.73,0.00)(3.71,-0.04)(3.69,-0.06)(3.67,-0.10)(3.65,-0.13)(3.63,-0.12)(3.60,-0.09)(3.56,-0.07)(3.52,-0.06)(3.48,-0.04)(3.44,-0.05)(3.40,-0.02)(3.36,-0.03)(3.32,0.00)(3.28,0.02)(3.24,0.04)(3.20,0.02)(3.16,0.00)(3.12,-0.01)(3.08,-0.02)(3.04,-0.01)(3.00,0.00)(2.95,-0.01)(2.90,0.01)(2.85,0.00)(2.80,0.01)(2.75,0.00)(2.70,0.02)(2.65,0.01)(2.60,0.02)(2.55,0.01)(2.50,0.03)}
\tr{7}{(4.00,-0.02)(3.985,-0.10)(3.97,0.00)(3.955,-0.08)(3.94,0.02)(3.925,-0.06)(3.91,0.00)(3.895,0.02)(3.88,0.04)(3.86,0.02)(3.84,0.05)(3.82,0.08)(3.80,0.12)(3.785,0.10)(3.77,0.08)(3.75,0.04)(3.73,0.00)(3.71,-0.04)(3.69,-0.06)(3.67,-0.10)(3.65,-0.12)(3.62,-0.10)(3.59,-0.08)(3.55,-0.06)(3.51,-0.05)(3.47,-0.03)(3.43,-0.02)(3.39,-0.01)(3.35,0.02)(3.31,0.05)(3.28,0.08)(3.25,0.05)(3.22,0.01)(3.18,-0.02)(3.14,-0.03)(3.10,-0.02)(3.06,-0.01)(3.02,-0.02)(2.98,0.00)(2.94,-0.01)(2.90,0.00)(2.85,0.01)(2.80,0.00)(2.75,0.02)(2.70,0.01)(2.65,0.02)(2.60,0.00)(2.55,0.02)(2.50,0.01)}
\tr{8}{(4.00,0.02)(3.985,-0.06)(3.97,0.00)(3.955,-0.10)(3.94,0.02)(3.925,-0.04)(3.91,-0.02)(3.895,0.00)(3.88,0.02)(3.86,0.04)(3.84,0.02)(3.82,0.06)(3.80,0.10)(3.785,0.08)(3.77,0.06)(3.75,0.02)(3.73,-0.02)(3.71,-0.05)(3.69,-0.08)(3.67,-0.10)(3.65,-0.11)(3.62,-0.09)(3.59,-0.08)(3.55,-0.06)(3.51,-0.05)(3.47,-0.03)(3.43,-0.02)(3.39,0.00)(3.35,0.02)(3.32,0.04)(3.29,0.05)(3.26,0.03)(3.23,0.00)(3.19,-0.02)(3.15,-0.03)(3.11,-0.02)(3.07,-0.01)(3.03,-0.02)(2.99,0.00)(2.95,0.01)(2.90,0.00)(2.85,0.02)(2.80,0.01)(2.75,0.00)(2.70,0.02)(2.65,0.01)(2.60,0.02)(2.55,0.01)(2.50,0.02)}
\tr{9}{(4.00,0.04)(3.985,0.02)(3.97,0.06)(3.955,0.00)(3.945,0.04)(3.93,-0.04)(3.915,-0.12)(3.90,-0.04)(3.88,0.00)(3.86,0.03)(3.84,0.06)(3.82,0.05)(3.80,0.08)(3.785,0.06)(3.77,0.10)(3.75,0.05)(3.73,0.00)(3.71,-0.04)(3.69,-0.06)(3.67,-0.08)(3.65,-0.14)(3.63,-0.10)(3.60,-0.07)(3.56,-0.06)(3.52,-0.04)(3.48,-0.03)(3.44,-0.02)(3.40,0.00)(3.36,0.01)(3.32,0.03)(3.29,0.05)(3.26,0.03)(3.23,0.00)(3.19,-0.03)(3.15,-0.04)(3.11,-0.03)(3.07,-0.04)(3.03,-0.02)(2.99,-0.01)(2.95,0.00)(2.90,-0.01)(2.85,0.01)(2.80,0.00)(2.75,0.01)(2.70,0.00)(2.65,0.02)(2.60,0.01)(2.55,0.02)(2.50,0.01)}
\tr{10}{(4.00,0.02)(3.985,0.04)(3.97,0.08)(3.955,0.12)(3.94,0.02)(3.925,-0.10)(3.91,-0.08)(3.895,-0.04)(3.88,-0.02)(3.86,0.02)(3.84,0.04)(3.82,0.06)(3.80,0.07)(3.78,0.06)(3.76,0.04)(3.74,0.02)(3.72,-0.02)(3.70,-0.03)(3.68,-0.06)(3.66,-0.10)(3.64,-0.12)(3.61,-0.10)(3.58,-0.09)(3.54,-0.07)(3.50,-0.05)(3.46,-0.05)(3.42,-0.03)(3.38,-0.02)(3.35,0.00)(3.32,0.02)(3.29,0.03)(3.26,0.02)(3.22,0.00)(3.18,-0.02)(3.14,-0.04)(3.10,-0.05)(3.06,-0.04)(3.02,-0.03)(2.98,-0.02)(2.94,-0.02)(2.90,-0.01)(2.85,0.00)(2.80,0.01)(2.75,0.00)(2.70,0.02)(2.65,0.01)(2.60,0.02)(2.55,0.01)(2.50,0.03)}
\tr{11}{(4.00,0.00)(3.985,0.04)(3.97,0.10)(3.955,0.12)(3.94,0.04)(3.925,-0.08)(3.91,-0.10)(3.895,-0.08)(3.88,-0.06)(3.86,-0.02)(3.84,0.02)(3.82,0.05)(3.80,0.08)(3.78,0.09)(3.76,0.07)(3.74,0.04)(3.72,0.00)(3.70,-0.03)(3.68,-0.06)(3.66,-0.08)(3.64,-0.07)(3.61,-0.06)(3.58,-0.05)(3.55,-0.06)(3.52,-0.03)(3.49,-0.05)(3.46,-0.08)(3.43,-0.05)(3.40,-0.02)(3.36,0.00)(3.32,0.03)(3.29,0.05)(3.26,0.03)(3.22,0.00)(3.18,-0.04)(3.14,-0.06)(3.10,-0.07)(3.06,-0.05)(3.02,-0.04)(2.98,-0.03)(2.94,-0.01)(2.90,0.00)(2.85,-0.01)(2.80,0.00)(2.75,0.02)(2.70,0.01)(2.65,0.02)(2.60,0.00)(2.55,0.02)(2.50,0.03)}
\tr{12}{(4.00,0.00)(3.985,0.06)(3.97,0.12)(3.955,0.10)(3.94,0.00)(3.925,-0.08)(3.91,-0.10)(3.895,-0.09)(3.88,-0.06)(3.86,-0.02)(3.84,0.02)(3.82,0.05)(3.80,0.07)(3.78,0.06)(3.76,0.04)(3.74,0.00)(3.72,-0.02)(3.70,-0.05)(3.68,-0.08)(3.66,-0.09)(3.64,-0.08)(3.61,-0.06)(3.58,-0.05)(3.55,-0.06)(3.52,-0.04)(3.49,-0.02)(3.46,-0.06)(3.43,-0.04)(3.40,0.00)(3.36,0.02)(3.32,0.05)(3.29,0.07)(3.26,0.04)(3.22,0.00)(3.18,-0.04)(3.14,-0.07)(3.10,-0.08)(3.06,-0.07)(3.02,-0.05)(2.98,-0.03)(2.94,-0.02)(2.90,-0.01)(2.85,0.00)(2.80,0.01)(2.75,0.00)(2.70,0.02)(2.65,0.01)(2.60,0.02)(2.55,0.01)(2.50,0.02)}
\tr{13}{(4.00,0.00)(3.99,-0.12)(3.98,0.00)(3.965,0.08)(3.95,0.04)(3.935,-0.08)(3.92,-0.06)(3.905,0.00)(3.89,-0.02)(3.87,0.02)(3.85,0.04)(3.83,0.03)(3.81,0.06)(3.79,0.05)(3.77,0.03)(3.75,0.00)(3.73,-0.02)(3.71,-0.03)(3.69,-0.05)(3.67,-0.06)(3.65,-0.07)(3.62,-0.06)(3.58,-0.05)(3.54,-0.05)(3.50,-0.04)(3.46,-0.03)(3.42,-0.01)(3.38,0.02)(3.35,0.05)(3.32,0.08)(3.29,0.09)(3.26,0.06)(3.22,0.02)(3.18,-0.03)(3.14,-0.07)(3.10,-0.09)(3.06,-0.08)(3.02,-0.06)(2.98,-0.04)(2.94,-0.03)(2.90,-0.02)(2.85,0.00)(2.80,-0.01)(2.75,0.01)(2.70,0.02)(2.65,0.01)(2.60,0.03)(2.55,0.02)(2.50,0.03)}
\tr{14}{(4.00,0.00)(3.99,-0.15)(3.98,0.00)(3.965,0.08)(3.95,0.00)(3.935,-0.10)(3.92,-0.06)(3.90,0.00)(3.88,0.02)(3.86,0.04)(3.84,0.05)(3.82,0.04)(3.80,0.06)(3.78,0.05)(3.76,0.03)(3.74,0.00)(3.72,-0.02)(3.70,-0.04)(3.68,-0.06)(3.66,-0.05)(3.63,-0.06)(3.60,-0.05)(3.56,-0.05)(3.52,-0.04)(3.48,-0.03)(3.44,-0.02)(3.40,0.00)(3.36,0.03)(3.33,0.06)(3.30,0.08)(3.27,0.06)(3.24,0.02)(3.20,-0.02)(3.16,-0.06)(3.12,-0.09)(3.08,-0.08)(3.04,-0.06)(3.00,-0.04)(2.96,-0.03)(2.92,-0.01)(2.88,-0.02)(2.84,0.00)(2.80,0.01)(2.75,0.00)(2.70,0.02)(2.65,0.01)(2.60,0.03)(2.55,0.02)(2.50,0.04)}
\dq{0}{8.35}\dq{1}{8.22}\dq{2}{8.10}\dq{3}{7.98}\dq{4}{7.86}\dq{5}{7.74}\dq{6}{7.61}\dq{7}{7.49}
\dq{8}{7.37}\dq{9}{7.25}\dq{10}{7.13}\dq{11}{7.00}\dq{12}{6.88}\dq{13}{6.76}\dq{14}{6.64}
\ruler
\end{axis}

% titles
\node[anchor=base west, inner sep=0pt, font=\ttl] at (11pt,241pt) {A. galactitol solution};
\node[anchor=base west, inner sep=0pt, font=\ttl] at (169pt,239.5pt) {B. 16 year old boy, urine galactitol};
\node[anchor=base west, inner sep=0pt, font=\ttl] at (181.5pt,231pt) {level 1119 mmol/mol creatinine};
\node[anchor=base west, inner sep=0pt, font=\ttl] at (328.5pt,243.5pt) {C. 8 year old boy, urine galactitol};
\node[anchor=base west, inner sep=0pt, font=\ttl] at (341pt,234.5pt) {level 688 mmol/mol creatinine};
\end{tikzpicture}
\end{document}
